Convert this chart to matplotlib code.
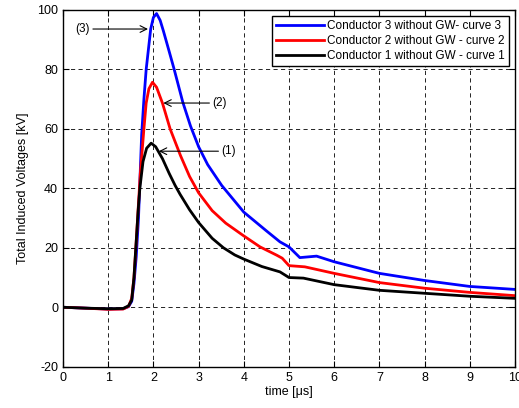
import matplotlib.pyplot as plt

plt.rcParams['font.family'] = ['Liberation Sans', 'DejaVu Sans']
plt.rcParams['axes.unicode_minus'] = False

# time [us] and voltages [kV]
t1 = [0, 0.5, 1.0, 1.33, 1.45, 1.52, 1.57, 1.61, 1.66, 1.70, 1.77, 1.85, 1.95,
      2.05, 2.2, 2.35, 2.48, 2.59, 2.8, 3.0, 3.3, 3.55, 3.8, 4.0, 4.4, 4.8, 5.0, 5.32,
      6.0, 7.0, 8.0, 9.0, 10.0]
v1 = [0, -0.3, -0.5, -0.4, 0.5, 2.4, 10, 19.8, 32, 40, 49, 53.5, 55.2,
      54, 50, 45, 41, 38, 32.8, 28.5, 23.2, 20, 17.6, 16.2, 13.7, 11.9, 10.0, 9.8,
      7.6, 5.7, 4.7, 3.7, 3]

t2 = [0, 0.5, 1.0, 1.33, 1.45, 1.52, 1.57, 1.62, 1.67, 1.71, 1.79, 1.84, 1.9, 1.98,
      2.07, 2.2, 2.37, 2.6, 2.8, 3.0, 3.3, 3.6, 4.0, 4.36, 4.73, 4.85, 5.0, 5.35,
      6.0, 7.0, 8.0, 9.0, 10.0]
v2 = [0, -0.3, -0.7, -0.6, 0.3, 3, 10, 22, 35, 45, 60, 68.7, 73.5, 75.7,
      74, 68.7, 60, 51, 44, 38.5, 32.5, 28.3, 24, 20.3, 17.5, 16.5, 14, 13.6,
      11.4, 8.3, 6.4, 5, 3.9]

t3 = [0, 0.5, 1.0, 1.33, 1.45, 1.52, 1.57, 1.62, 1.67, 1.70, 1.74, 1.79, 1.84, 1.94,
      2.0, 2.07, 2.15, 2.22, 2.35, 2.46, 2.65, 2.82, 3.0, 3.2, 3.51, 4.0, 4.5, 4.8, 5.0,
      5.24, 5.61, 6.0, 7.0, 8.0, 9.0, 10.0]
v3 = [0, -0.3, -0.6, -0.5, 0.2, 2, 8, 17, 30, 42, 58, 70, 80, 93.6,
      97.5, 98.8, 96.5, 93, 86, 80, 69, 61, 54, 48, 41, 32, 25.7, 22, 20.3,
      16.7, 17.2, 15.3, 11.4, 9, 7, 6]

labels = ['Conductor 3 without GW- curve 3',
          'Conductor 2 without GW - curve 2',
          'Conductor 1 without GW - curve 1']

fig = plt.figure(figsize=(5.19, 4.08), dpi=100)
ax = fig.add_axes([0.1214, 0.1012, 0.8709, 0.8743])

ax.plot(t3, v3, color='#0000ff', lw=2, label=labels[0])
ax.plot(t2, v2, color='#ff0000', lw=2, label=labels[1])
ax.plot(t1, v1, color='black', lw=2, label=labels[2])

ax.set_xlim(0, 10)
ax.set_ylim(-20, 100)
ax.set_xticks(range(0, 11))
ax.set_yticks(range(-20, 101, 20))
ax.grid(True, color='black', linestyle=(0, (5, 4)), linewidth=0.6)
ax.tick_params(direction='in', top=True, right=True, length=4, labelsize=9, width=0.8)
for s in ax.spines.values():
    s.set_linewidth(1)

ax.set_xlabel('time [μs]', fontsize=9, labelpad=2)
ax.set_ylabel('Total Induced Voltages [kV]', fontsize=9, labelpad=6)

leg = ax.legend(loc='upper right', fontsize=8.5, handlelength=4, fancybox=False,
                framealpha=1, edgecolor='black', borderaxespad=0.5,
                labelspacing=0.25, handletextpad=0.3, borderpad=0.35)
leg.get_frame().set_linewidth(1)

arr = dict(arrowstyle='->', color='black', lw=0.8, shrinkA=0, shrinkB=0,
           mutation_scale=12)
ax.annotate('(3)', xy=(1.88, 93.6), xytext=(0.6, 93.6), fontsize=8.5,
            va='center', ha='right', arrowprops=arr)
ax.annotate('(2)', xy=(2.22, 68.7), xytext=(3.3, 68.7), fontsize=8.5,
            va='center', ha='left', arrowprops=arr)
ax.annotate('(1)', xy=(2.12, 52.5), xytext=(3.5, 52.5), fontsize=8.5,
            va='center', ha='left', arrowprops=arr)

fig.savefig('out.png', dpi=100)
